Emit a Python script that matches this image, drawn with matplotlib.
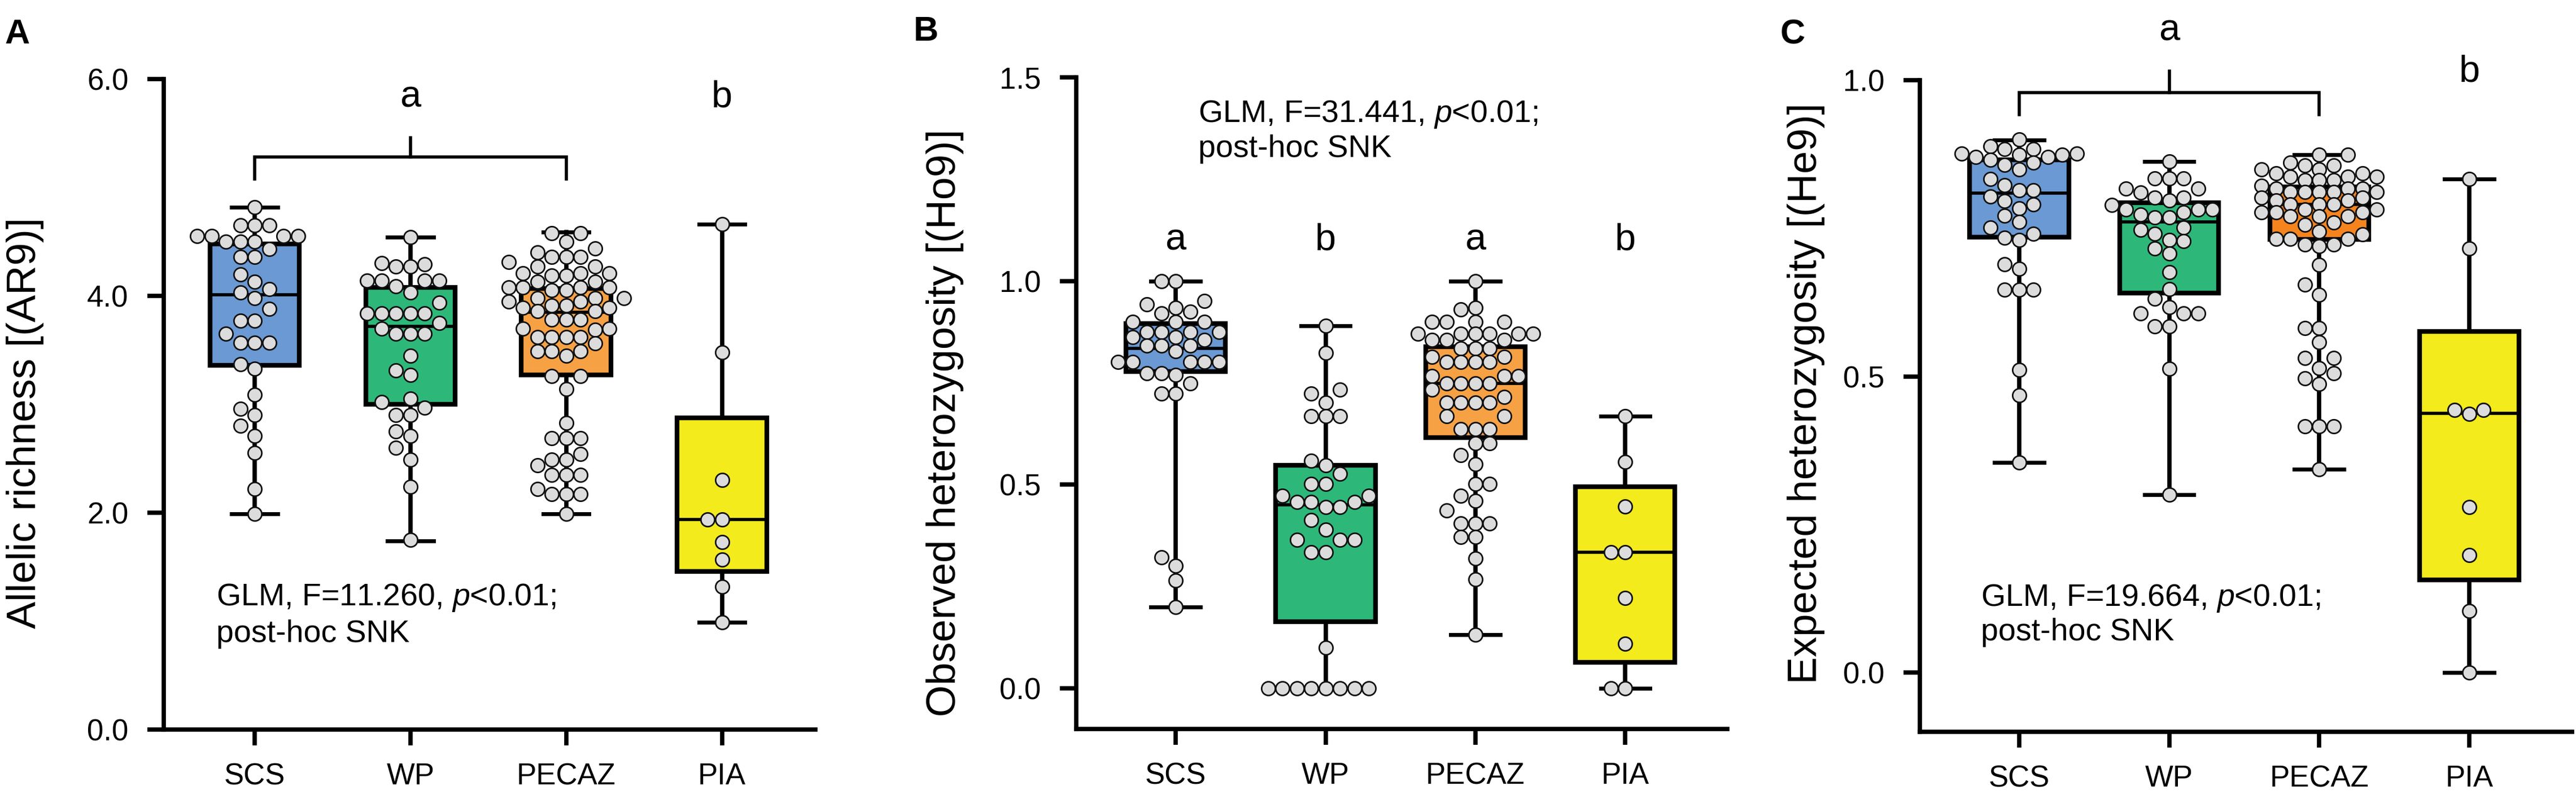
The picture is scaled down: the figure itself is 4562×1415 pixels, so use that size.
import numpy as np
import matplotlib
matplotlib.use("Agg")
import matplotlib.pyplot as plt
from matplotlib.ticker import FormatStrFormatter

plt.rcParams['font.family'] = ['Liberation Sans', 'DejaVu Sans']
plt.rcParams['mathtext.fontset'] = 'custom'
plt.rcParams['mathtext.rm'] = 'Liberation Sans'
plt.rcParams['mathtext.it'] = 'Liberation Sans:italic'

groups = ['SCS', 'WP', 'PECAZ', 'PIA']
colors_ab = ['#6a99d3', '#2db879', '#f7a145', '#f3eb1c']
colors_c = ['#6a99d3', '#2db879', '#f5841f', '#f3eb1c']

# ---- A: allelic richness (AR9), one value per population
ar_scs = [4.82, 4.65, 4.65, 4.65, 4.55, 4.55, 4.55, 4.55, 4.50, 4.50, 4.50, 4.43,
          4.36, 4.36, 4.20, 4.13, 4.06, 4.03, 3.98, 3.88, 3.77, 3.77, 3.65, 3.57,
          3.57, 3.57, 3.37, 3.33, 3.09, 2.96, 2.90, 2.80, 2.71, 2.55, 2.22, 1.99]
ar_wp = [4.54, 4.30, 4.29, 4.27, 4.27, 4.14, 4.14, 4.14, 4.14, 4.09, 4.03, 3.94,
         3.84, 3.84, 3.84, 3.84, 3.84, 3.75, 3.70, 3.65, 3.65, 3.65, 3.45, 3.31,
         3.27, 3.05, 3.02, 2.97, 2.90, 2.90, 2.75, 2.71, 2.60, 2.49, 2.24, 1.75]
ar_pecaz = [4.58, 4.58, 4.50, 4.44, 4.40, 4.36, 4.36, 4.36, 4.31, 4.27, 4.27, 4.21,
            4.21, 4.21, 4.19, 4.19, 4.13, 4.13, 4.08, 4.08, 4.08, 4.08, 4.05, 4.05,
            3.98, 3.98, 3.98, 3.95, 3.95, 3.91, 3.91, 3.89, 3.89, 3.86, 3.86, 3.78,
            3.78, 3.78, 3.70, 3.70, 3.69, 3.62, 3.62, 3.62, 3.62, 3.56, 3.49, 3.49,
            3.49, 3.45, 3.26, 3.26, 3.14, 2.83, 2.69, 2.69, 2.69, 2.54, 2.49, 2.49,
            2.44, 2.35, 2.35, 2.35, 2.22, 2.17, 2.17, 2.17, 1.99]
ar_pia = [4.66, 3.48, 2.30, 1.94, 1.94, 1.73, 1.57, 1.32, 0.99]
# whisker low, q1, median, q3, whisker high
ar_box = [[1.99, 3.36, 4.01, 4.48, 4.82],
          [1.74, 3.00, 3.72, 4.08, 4.54],
          [1.99, 3.27, 3.85, 4.07, 4.59],
          [0.99, 1.46, 1.94, 2.875, 4.66]]

# ---- B: observed heterozygosity (Ho9)
ho_scs = [1.0, 1.0, 0.951, 0.942, 0.934, 0.925, 0.92, 0.90, 0.90, 0.90, 0.875, 0.875,
          0.875, 0.875, 0.862, 0.862, 0.855, 0.842, 0.842, 0.842, 0.828, 0.801, 0.801,
          0.801, 0.801, 0.801, 0.774, 0.774, 0.77, 0.749, 0.723, 0.723, 0.322, 0.301,
          0.265, 0.20]
ho_wp = [0.89, 0.824, 0.733, 0.723, 0.702, 0.668, 0.668, 0.668, 0.558, 0.548, 0.527,
         0.502, 0.502, 0.472, 0.472, 0.458, 0.458, 0.458, 0.445, 0.445, 0.413, 0.39,
         0.365, 0.365, 0.365, 0.334, 0.334, 0.10, 0.0, 0.0, 0.0, 0.0, 0.0, 0.0, 0.0, 0.0]
ho_pecaz = [1.0, 0.934, 0.93, 0.90, 0.90, 0.90, 0.90, 0.87, 0.87, 0.87, 0.87, 0.87, 0.87,
            0.855, 0.855, 0.855, 0.835, 0.835, 0.835, 0.813, 0.813, 0.801, 0.801, 0.801,
            0.801, 0.767, 0.767, 0.767, 0.749, 0.749, 0.749, 0.749, 0.733, 0.715, 0.702,
            0.702, 0.702, 0.702, 0.668, 0.668, 0.636, 0.636, 0.636, 0.601, 0.601, 0.573,
            0.55, 0.502, 0.502, 0.472, 0.46, 0.436, 0.404, 0.404, 0.404, 0.371, 0.371,
            0.319, 0.268, 0.132]
ho_pia = [0.668, 0.556, 0.446, 0.334, 0.334, 0.221, 0.11, 0.0, 0.0]
ho_box = [[0.20, 0.778, 0.834, 0.896, 1.0],
          [0.0, 0.164, 0.451, 0.548, 0.89],
          [0.132, 0.616, 0.748, 0.839, 1.0],
          [0.0, 0.063, 0.334, 0.495, 0.668]]

# ---- C: expected heterozygosity (He9)
he_scs = [0.90, 0.888, 0.884, 0.884, 0.876, 0.876, 0.874, 0.874, 0.870, 0.870, 0.866,
          0.861, 0.857, 0.849, 0.833, 0.823, 0.814, 0.814, 0.804, 0.796, 0.79, 0.784,
          0.771, 0.761, 0.751, 0.741, 0.734, 0.73, 0.689, 0.682, 0.646, 0.646, 0.646,
          0.511, 0.468, 0.355]
he_wp = [0.863, 0.834, 0.834, 0.834, 0.817, 0.817, 0.81, 0.802, 0.802, 0.797, 0.789,
         0.782, 0.782, 0.782, 0.777, 0.773, 0.768, 0.768, 0.751, 0.747, 0.741, 0.73,
         0.728, 0.716, 0.707, 0.676, 0.647, 0.631, 0.617, 0.606, 0.606, 0.606, 0.584,
         0.584, 0.513, 0.30]
he_pecaz = [0.874, 0.874, 0.861, 0.856, 0.856, 0.849, 0.849, 0.843, 0.843, 0.837, 0.837,
            0.837, 0.831, 0.831, 0.831, 0.822, 0.817, 0.817, 0.817, 0.811, 0.811, 0.811,
            0.811, 0.811, 0.802, 0.802, 0.797, 0.797, 0.790, 0.790, 0.790, 0.782, 0.782,
            0.777, 0.777, 0.777, 0.770, 0.770, 0.770, 0.760, 0.756, 0.745, 0.74, 0.732,
            0.732, 0.732, 0.723, 0.723, 0.72, 0.688, 0.655, 0.638, 0.582, 0.582, 0.558,
            0.531, 0.531, 0.514, 0.505, 0.497, 0.487, 0.416, 0.416, 0.416, 0.343]
he_pia = [0.833, 0.716, 0.443, 0.443, 0.437, 0.279, 0.198, 0.104, 0.0]
he_box = [[0.355, 0.735, 0.809, 0.866, 0.899],
          [0.30, 0.641, 0.761, 0.793, 0.863],
          [0.343, 0.731, 0.79, 0.82, 0.874],
          [0.0, 0.156, 0.438, 0.576, 0.833]]


def swarm_x(ax, pos, values, step_px, max_cols=4):
    # GraphPad-like column swarm: each dot takes the nearest free column
    tr = ax.transData
    inv = tr.inverted()
    x0 = tr.transform((pos, 0))[0]
    ys = np.array([tr.transform((pos, v))[1] for v in values])
    cols = [0]
    for k in range(1, max_cols + 1):
        cols += [-k, k]
    placed = []
    xs = np.zeros(len(values))
    for i in np.argsort(ys, kind='stable'):
        y = ys[i]
        pick, best_c, best_gap = None, 0, -1
        for c in cols:
            gaps = [abs(y - py) for pc, py in placed if pc == c]
            gap = min(gaps) if gaps else np.inf
            if gap >= step_px * 0.92:
                pick = c
                break
            if gap > best_gap:
                best_gap, best_c = gap, c
        if pick is None:
            pick = best_c
        placed.append((pick, y))
        xs[i] = inv.transform((x0 + pick * step_px, y))[0]
    return xs


fig = plt.figure(figsize=(45.62, 14.15), dpi=100)
W, H = 4562, 1415


def make_axes(left, bottom, right, top):
    return fig.add_axes([left / W, 1 - bottom / H, (right - left) / W, (bottom - top) / H])


def panel(ax, data, box, colors, xlim, ylim, yticks, width, capw):
    ax.set_xlim(*xlim)
    ax.set_ylim(*ylim)
    stats = []
    for b in box:
        stats.append(dict(whislo=b[0], q1=b[1], med=b[2], q3=b[3], whishi=b[4], fliers=[]))
    bp = ax.bxp(stats, positions=range(4), widths=width, capwidths=capw,
                patch_artist=True, showfliers=False, manage_ticks=False,
                boxprops=dict(linewidth=6, edgecolor='black'),
                whiskerprops=dict(linewidth=5.5, color='black'),
                capprops=dict(linewidth=5, color='black'),
                medianprops=dict(linewidth=4, color='black'), zorder=2)
    for patch, c in zip(bp['boxes'], colors):
        patch.set_facecolor(c)
    for i, vals in enumerate(data):
        xs = swarm_x(ax, i, vals, 25.5)
        ax.scatter(xs, vals, s=17.5 ** 2, facecolor='#dcdcdc', edgecolor='#111111',
                   linewidth=2.0, zorder=3, clip_on=False)
    for s in ['top', 'right']:
        ax.spines[s].set_visible(False)
    for s in ['left', 'bottom']:
        ax.spines[s].set_linewidth(5.5)
    ax.set_xticks(range(4))
    ax.set_xticklabels(groups)
    ax.set_yticks(yticks)
    ax.yaxis.set_major_formatter(FormatStrFormatter('%.1f'))
    ax.tick_params(axis='y', length=21, width=5.5, pad=24, labelsize=38)
    ax.tick_params(axis='x', length=20, width=5.5, pad=22, labelsize=38)


def bracket(ax, x1, x2, y, drop, rise):
    ax.plot([x1, x1, x2, x2], [y - drop, y, y, y - drop], color='black', lw=4,
            solid_joinstyle='miter', clip_on=False)
    xm = (x1 + x2) / 2
    ax.plot([xm, xm], [y, y + rise], color='black', lw=4, clip_on=False)


# ---- panel A
axA = make_axes(290, 1292, 1444, 140)
panel(axA, [ar_scs, ar_wp, ar_pecaz, ar_pia], ar_box, colors_ab,
      (-0.584, 3.60), (0, 6), [0, 2, 4, 6], 0.575, 0.295)
bracket(axA, 0, 2, 5.28, 0.20, 0.18)
axA.text(1, 5.74, 'a', ha='center', va='baseline', fontsize=48)
axA.text(3, 5.74, 'b', ha='center', va='baseline', fontsize=48)
axA.text(-0.247, 1.146, 'GLM, F=11.260, $\\mathit{p}$<0.01;', fontsize=40, va='baseline')
axA.text(-0.247, 0.807, 'post-hoc SNK', fontsize=40, va='baseline')

# ---- panel B
axB = make_axes(1906, 1291, 3059, 137)
panel(axB, [ho_scs, ho_wp, ho_pecaz, ho_pia], ho_box, colors_ab,
      (-0.663, 3.68), (-0.1, 1.5), [0, 0.5, 1.0, 1.5], 0.663, 0.33)
for i, lt in enumerate(['a', 'b', 'a', 'b']):
    axB.text(i, 1.077, lt, ha='center', va='baseline', fontsize=48)
axB.text(0.15, 1.39, 'GLM, F=31.441, $\\mathit{p}$<0.01;', fontsize=40, va='baseline')
axB.text(0.15, 1.304, 'post-hoc SNK', fontsize=40, va='baseline')

# ---- panel C
axC = make_axes(3400, 1296, 4555, 142)
panel(axC, [he_scs, he_wp, he_pecaz, he_pia], he_box, colors_c,
      (-0.662, 3.685), (-0.1, 1.0), [0, 0.5, 1.0], 0.66, 0.33)
bracket(axC, 0, 2, 0.979, 0.037, 0.036)
axC.text(1, 1.067, 'a', ha='center', va='baseline', fontsize=48, clip_on=False)
axC.text(3, 0.998, 'b', ha='center', va='baseline', fontsize=48)
axC.text(-0.256, 0.1126, 'GLM, F=19.664, $\\mathit{p}$<0.01;', fontsize=40, va='baseline')
axC.text(-0.256, 0.054, 'post-hoc SNK', fontsize=40, va='baseline')

# y labels and panel letters
fig.text(45 / W, 1 - 749 / H, 'Allelic richness [(AR9)]', rotation=90,
         ha='center', va='center', fontsize=52)
fig.text(1673 / W, 1 - 749 / H, 'Observed heterozygosity [(Ho9)]', rotation=90,
         ha='center', va='center', fontsize=52)
fig.text(3198 / W, 1 - 697 / H, 'Expected heterozygosity [(He9)]', rotation=90,
         ha='center', va='center', fontsize=52)
for x, y, lt in [(8, 77, 'A'), (1618, 72, 'B'), (3152, 77, 'C')]:
    fig.text(x / W, 1 - y / H, lt, fontsize=44, fontweight='bold', va='baseline')

fig.savefig('out.png', dpi=100)
